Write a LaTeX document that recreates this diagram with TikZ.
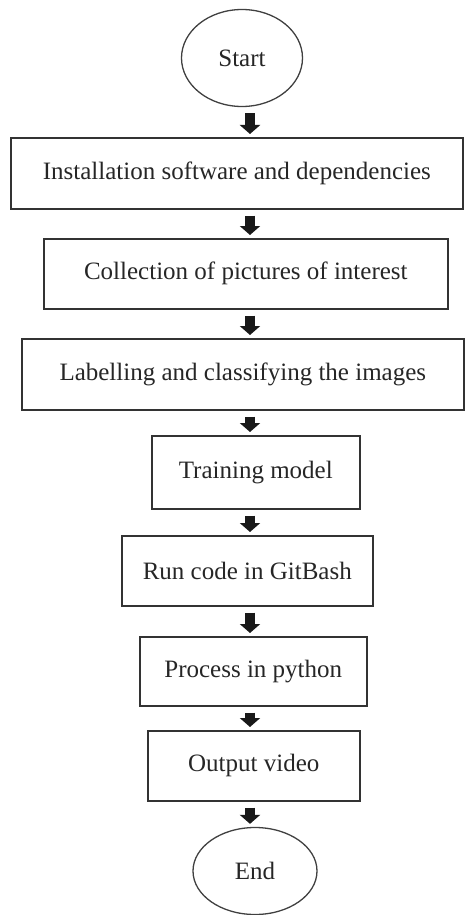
\documentclass[tikz,border=0pt]{standalone}
\usepackage{fontspec}
\setmainfont{Liberation Serif}
\usetikzlibrary{shapes.geometric,arrows.meta}
\begin{document}
\begin{tikzpicture}[x=1pt,y=-1pt,
  every node/.style={font=\fontsize{25}{29}\selectfont, text=black!85, inner sep=0pt},
  stepbox/.style={draw=black!80, line width=1.6pt, rectangle, anchor=north west},
  term/.style={draw=black!75, line width=1.3pt, ellipse},
  arr/.style={line width=10pt, draw=black!90,
    -{Triangle[width=20pt,length=9pt]}, shorten <=6pt, shorten >=3pt}]
  \useasboundingbox (0,0) rectangle (464,915);
  % terminals
  \node[term, minimum width=121pt, minimum height=97pt] (start) at (242,58) {Start};
  \node[term, minimum width=124pt, minimum height=87pt] (end) at (255,871) {End};
  % process steps
  \node[stepbox, minimum width=452pt, minimum height=71pt] (s1) at (10,137) {};
  \node at (s1.center) {Installation software and dependencies};
  \node[stepbox, minimum width=404pt, minimum height=70pt] (s2) at (43,238) {};
  \node at (s2.center) {Collection of pictures of interest};
  \node[stepbox, minimum width=442pt, minimum height=71pt] (s3) at (21,338) {};
  \node at (s3.center) {Labelling and classifying the images};
  \node[stepbox, minimum width=208pt, minimum height=73pt] (s4) at (151,435) {};
  \node at (s4.center) {Training model};
  \node[stepbox, minimum width=251pt, minimum height=70pt] (s5) at (121,535) {};
  \node at (s5.center) {Run code in GitBash};
  \node[stepbox, minimum width=227pt, minimum height=69pt] (s6) at (139,636) {};
  \node at (s6.center) {Process in python};
  \node[stepbox, minimum width=212pt, minimum height=70pt] (s7) at (147,730) {};
  \node at (s7.center) {Output video};
  % arrows run down a common axis
  \coordinate (ax) at (250,0);
  \draw[arr] (start.south -| ax) -- (s1.north -| ax);
  \draw[arr] (s1.south -| ax) -- (s2.north -| ax);
  \draw[arr] (s2.south -| ax) -- (s3.north -| ax);
  \draw[arr] (s3.south -| ax) -- (s4.north -| ax);
  \draw[arr] (s4.south -| ax) -- (s5.north -| ax);
  \draw[arr] (s5.south -| ax) -- (s6.north -| ax);
  \draw[arr] (s6.south -| ax) -- (s7.north -| ax);
  \draw[arr] (s7.south -| ax) -- (end.north -| ax);
\end{tikzpicture}
\end{document}
